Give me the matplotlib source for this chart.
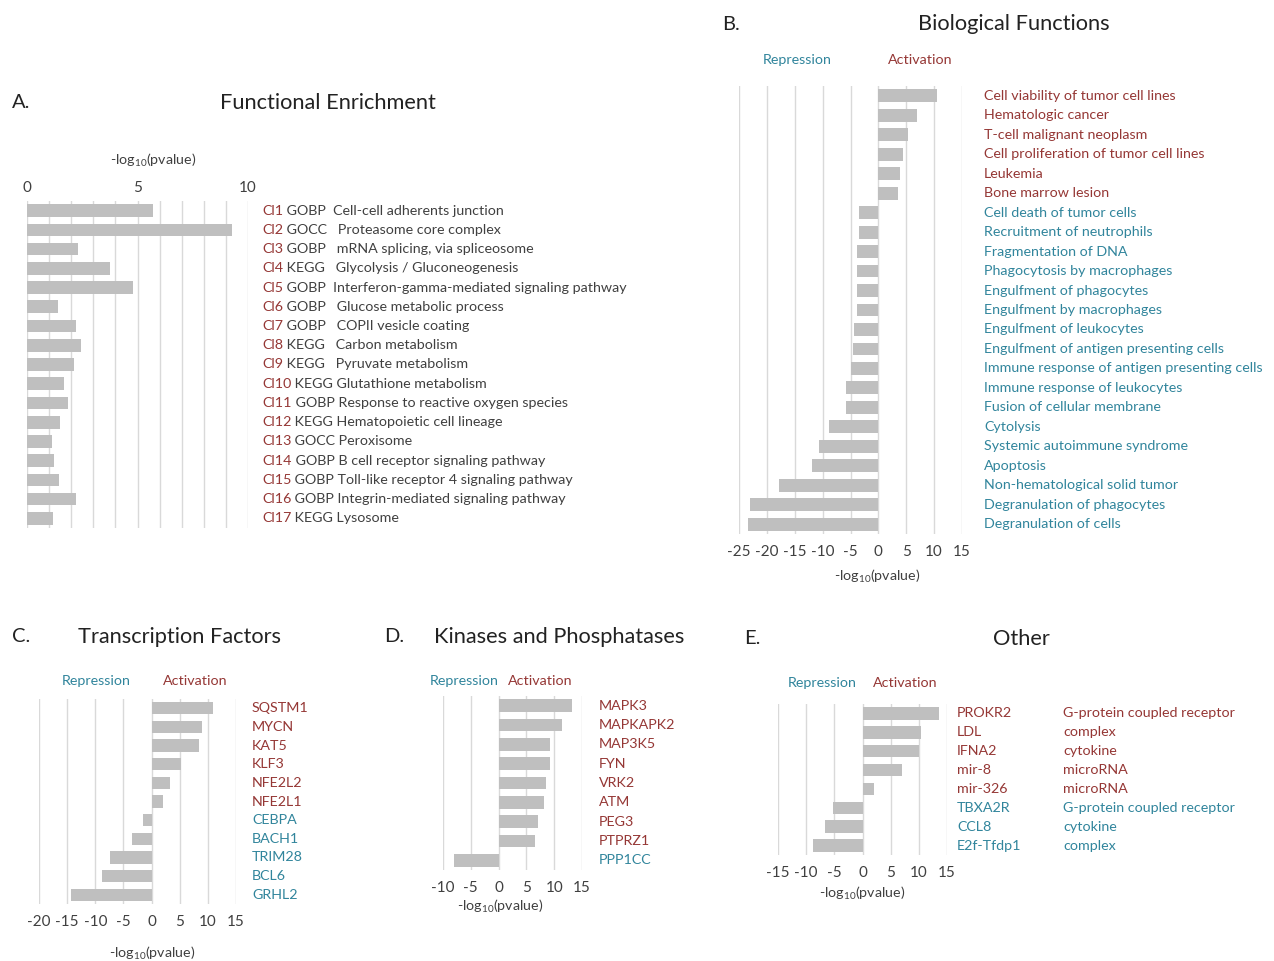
import numpy as np
import matplotlib
matplotlib.use("Agg")
import matplotlib.pyplot as plt

plt.rcParams['font.family'] = ['Lato', 'DejaVu Sans']
plt.rcParams['mathtext.fontset'] = 'custom'
plt.rcParams['mathtext.rm'] = 'Lato'
plt.rcParams['mathtext.it'] = 'Lato:italic'
plt.rcParams['axes.unicode_minus'] = False

RED = '#953735'
BLUE = '#31859C'
GRAY = '#404040'
BAR = '#BFBFBF'
GRID = '#D9D9D9'

W, H = 1274, 961

# ---- data ----
a_ids = ['Cl%d' % i for i in range(1, 18)]
a_terms = ['GOBP  Cell-cell adherents junction', 'GOCC   Proteasome core complex',
           'GOBP   mRNA splicing, via spliceosome', 'KEGG   Glycolysis / Gluconeogenesis',
           'GOBP  Interferon-gamma-mediated signaling pathway', 'GOBP   Glucose metabolic process',
           'GOBP   COPII vesicle coating', 'KEGG   Carbon metabolism', 'KEGG   Pyruvate metabolism',
           'KEGG Glutathione metabolism', 'GOBP Response to reactive oxygen species',
           'KEGG Hematopoietic cell lineage', 'GOCC Peroxisome', 'GOBP B cell receptor signaling pathway',
           'GOBP Toll-like receptor 4 signaling pathway', 'GOBP Integrin-mediated signaling pathway',
           'KEGG Lysosome']
a_vals = [5.70, 9.28, 2.32, 3.77, 4.81, 1.40, 2.23, 2.46, 2.11, 1.66, 1.84, 1.51, 1.12, 1.24, 1.45, 2.23, 1.18]

b_labels = ['Cell viability of tumor cell lines', 'Hematologic cancer', 'T-cell malignant neoplasm',
            'Cell proliferation of tumor cell lines', 'Leukemia', 'Bone marrow lesion',
            'Cell death of tumor cells', 'Recruitment of neutrophils', 'Fragmentation of DNA',
            'Phagocytosis by macrophages', 'Engulfment of phagocytes', 'Engulfment by macrophages',
            'Engulfment of leukocytes', 'Engulfment of antigen presenting cells',
            'Immune response of antigen presenting cells', 'Immune response of leukocytes',
            'Fusion of cellular membrane', 'Cytolysis', 'Systemic autoimmune syndrome', 'Apoptosis',
            'Non-hematological solid tumor', 'Degranulation of phagocytes', 'Degranulation of cells']
b_vals = [10.6, 6.9, 5.4, 4.5, 3.8, 3.6, -3.4, -3.4, -3.8, -3.8, -3.9, -3.9, -4.3, -4.6, -5.0,
          -5.8, -5.8, -8.8, -10.7, -11.9, -17.8, -23.0, -23.3]

c_labels = ['SQSTM1', 'MYCN', 'KAT5', 'KLF3', 'NFE2L2', 'NFE2L1', 'CEBPA', 'BACH1', 'TRIM28', 'BCL6', 'GRHL2']
c_vals = [10.95, 9.0, 8.5, 5.2, 3.3, 2.1, -1.6, -3.4, -7.4, -8.8, -14.3]

d_labels = ['MAPK3', 'MAPKAPK2', 'MAP3K5', 'FYN', 'VRK2', 'ATM', 'PEG3', 'PTPRZ1', 'PPP1CC']
d_vals = [13.2, 11.4, 9.25, 9.25, 8.5, 8.2, 7.15, 6.6, -8.0]

e_labels = ['PROKR2', 'LDL', 'IFNA2', 'mir-8', 'mir-326', 'TBXA2R', 'CCL8', 'E2f-Tfdp1']
e_types = ['G-protein coupled receptor', 'complex', 'cytokine', 'microRNA', 'microRNA',
           'G-protein coupled receptor', 'cytokine', 'complex']
e_vals = [13.6, 10.3, 10.1, 7.0, 1.96, -5.3, -6.7, -8.7]

XLAB = r'-log$_{10}$(pvalue)'
FS = 10.3
TFS = 15.7
DARK = '#222222'

fig = plt.figure(figsize=(W / 100, H / 100), dpi=100)


def ftext(px, py, s, **kw):
    fig.text(px / W, 1 - py / H, s, **kw)


def make_ax(x0, x1, y0, y1, xlim, vals, grid_step, tick_step, pad=8):
    ax = fig.add_axes([x0 / W, 1 - y1 / H, (x1 - x0) / W, (y1 - y0) / H])
    n = len(vals)
    ax.barh(np.arange(n), vals, height=0.66, color=BAR, zorder=2)
    ax.set_xlim(*xlim)
    ax.set_ylim(n - 0.5, -0.5)
    ax.set_xticks(np.arange(xlim[0], xlim[1] + 0.1, tick_step))
    ax.set_xticks(np.arange(xlim[0], xlim[1] + 0.1, grid_step), minor=True)
    ax.xaxis.grid(True, which='both', color=GRID, lw=1, zorder=0)
    ax.set_yticks([])
    ax.tick_params(axis='x', which='both', length=0, labelsize=11, labelcolor=GRAY, pad=pad)
    for s in ax.spines.values():
        s.set_visible(False)
    ax.set_axisbelow(True)
    ax._px = (x0, x1)
    return ax


def px2x(ax, px):
    x0, x1 = ax._px
    lo, hi = ax.get_xlim()
    return lo + (px - x0) / (x1 - x0) * (hi - lo)


# ---- A ----
axA = make_ax(27, 248, 201, 528, (0, 10), a_vals, 1, 5, pad=4)
axA.xaxis.tick_top()
for i, (cid, term) in enumerate(zip(a_ids, a_terms)):
    t = axA.text(px2x(axA, 262), i, cid, color=RED, fontsize=FS, va='center', ha='left', clip_on=False)
    axA.annotate(' ' + term, xy=(1, 0), xycoords=t, va='bottom', ha='left', color=GRAY, fontsize=FS)
ftext(153, 160, XLAB, ha='center', va='center', color=GRAY, fontsize=FS)
ftext(12, 103, 'A.', ha='left', va='center', color=DARK, fontsize=14.5)
ftext(328, 103, 'Functional Enrichment', ha='center', va='center', color=DARK, fontsize=TFS)


def signed_panel(ax, labels, vals, lab_px, rep_xy, act_xy, xlab_xy):
    for i, (lab, v) in enumerate(zip(labels, vals)):
        ax.text(px2x(ax, lab_px), i, lab, color=RED if v > 0 else BLUE, fontsize=FS,
                va='center', ha='left', clip_on=False)
    ftext(rep_xy[0], rep_xy[1], 'Repression', ha='center', va='center', color=BLUE, fontsize=FS)
    ftext(act_xy[0], act_xy[1], 'Activation', ha='center', va='center', color=RED, fontsize=FS)
    ftext(xlab_xy[0], xlab_xy[1], XLAB, ha='center', va='center', color=GRAY, fontsize=FS)


# ---- B ----
axB = make_ax(739, 962, 86, 534, (-25, 15), b_vals, 5, 5)
signed_panel(axB, b_labels, b_vals, 984, (797, 60), (920, 60), (877, 576))
ftext(722, 24, 'B.', ha='left', va='center', color=DARK, fontsize=14.5)
ftext(1014, 24, 'Biological Functions', ha='center', va='center', color=DARK, fontsize=TFS)

# ---- C ----
axC = make_ax(39, 236, 699, 904, (-20, 15), c_vals, 5, 5)
signed_panel(axC, c_labels, c_vals, 252, (96, 681), (195, 681), (152, 953))
ftext(12, 637, 'C.', ha='left', va='center', color=DARK, fontsize=14.5)
ftext(179, 637, 'Transcription Factors', ha='center', va='center', color=DARK, fontsize=TFS)

# ---- D ----
axD = make_ax(443, 582, 696, 870, (-10, 15), d_vals, 5, 5)
signed_panel(axD, d_labels, d_vals, 599, (464, 681), (540, 681), (500, 906))
ftext(384, 637, 'D.', ha='left', va='center', color=DARK, fontsize=14.5)
ftext(559, 637, 'Kinases and Phosphatases', ha='center', va='center', color=DARK, fontsize=TFS)

# ---- E ----
axE = make_ax(778, 947, 704, 855, (-15, 15), e_vals, 5, 5)
signed_panel(axE, e_labels, e_vals, 957, (822, 683), (905, 683), (862, 893))
for i, (typ, v) in enumerate(zip(e_types, e_vals)):
    axE.text(px2x(axE, 1063), i, typ, color=RED if v > 0 else BLUE, fontsize=FS,
             va='center', ha='left', clip_on=False)
ftext(744, 639, 'E.', ha='left', va='center', color=DARK, fontsize=14.5)
ftext(1021, 639, 'Other', ha='center', va='center', color=DARK, fontsize=TFS)

fig.savefig('out.png', dpi=100, facecolor='white')
